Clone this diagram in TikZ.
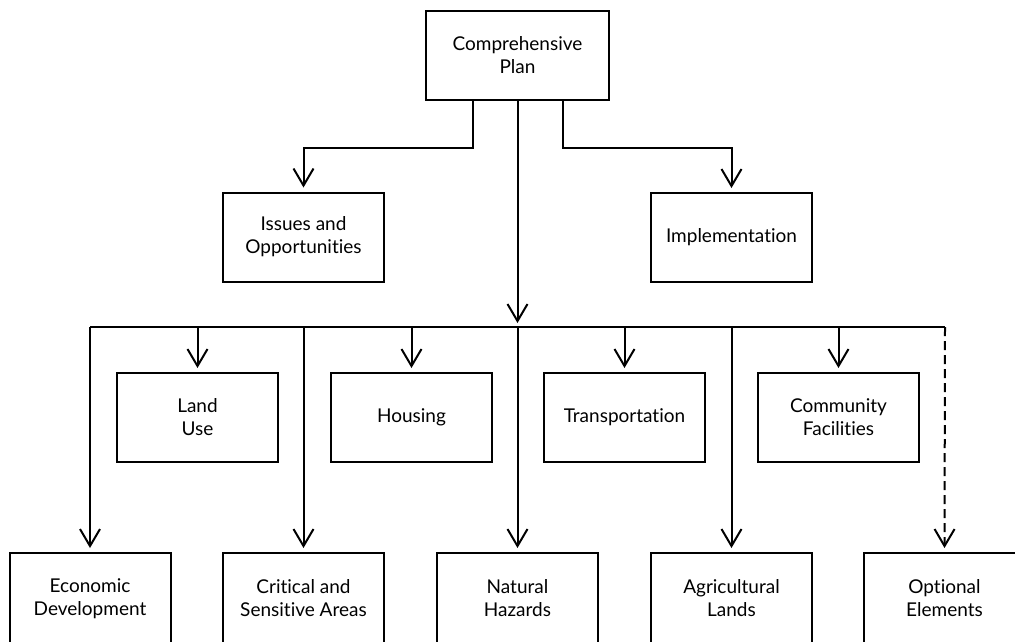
\documentclass[tikz,border=0pt]{standalone}
\usepackage{fontspec}
\setmainfont{Lato}[Ligatures=NoCommon]
\usetikzlibrary{arrows.meta}
\begin{document}
\begin{tikzpicture}[x=1pt,y=-1pt,
  box/.style={draw=black,line width=2pt,minimum width=161pt,minimum height=89pt,
    align=center,inner sep=0pt,font=\fontsize{19}{23}\selectfont},
  topbox/.style={box,line width=2.6pt,minimum width=183pt},
  link/.style={line width=2pt,-{Straight Barb[length=17pt,width=20pt,line width=2pt]},
    shorten >=4pt},
  plain/.style={line width=2pt}]
\useasboundingbox (0,0) rectangle (1015,642);
\clip (0,0) rectangle (1015,642);

% top level
\node[topbox] (cp) at (517.5,55.5) {Comprehensive\\Plan};
\node[box] (iss) at (303.5,237) {Issues and\\Opportunities};
\node[box] (imp) at (731.5,237.5) {Implementation};

% middle row
\node[box] (lu) at (197.5,417.5) {Land\\Use};
\node[box] (hou) at (411.5,417.5) {Housing};
\node[box] (tra) at (624.5,417.5) {Transportation};
\node[box] (com) at (838.5,417.5) {Community\\Facilities};

% bottom row (runs off the lower edge)
\node[box,minimum height=91pt] (eco) at (90,598.5) {Economic\\Development};
\node[box,minimum height=91pt] (cri) at (303.5,598.5) {Critical and\\Sensitive Areas};
\node[box,minimum height=91pt] (nat) at (517.5,598.5) {Natural\\Hazards};
\node[box,minimum height=91pt] (agr) at (731.5,598.5) {Agricultural\\Lands};
\node[box,minimum height=91pt] (opt) at (944.5,598.5) {Optional\\Elements};

% bus
\coordinate (busL) at (90,327);
\coordinate (busR) at (945,327);
\coordinate (busC) at (517.5,327);

% branches from the plan
\draw[link] ([xshift=-44.5pt]cp.south) -- ++(0,47) -| (iss.north);
\draw[link] ([xshift=45.5pt]cp.south) -- ++(0,47) -| (imp.north);
\draw[link] (cp.south) -- (busC);
\draw[plain] (busL) -- (busR);

% middle row arrows
\draw[link] (lu.north |- busC) -- (lu.north);
\draw[link] (hou.north |- busC) -- (hou.north);
\draw[link] (tra.north |- busC) -- (tra.north);
\draw[link] (com.north |- busC) -- (com.north);

% bottom row arrows
\draw[link] (busL) -- (eco.north);
\draw[link] (cri.north |- busC) -- (cri.north);
\draw[link] (busC) -- (nat.north);
\draw[link] (agr.north |- busC) -- (agr.north);
\draw[link,dash pattern=on 9pt off 5pt] (busR) -- (opt.north);
\end{tikzpicture}
\end{document}
